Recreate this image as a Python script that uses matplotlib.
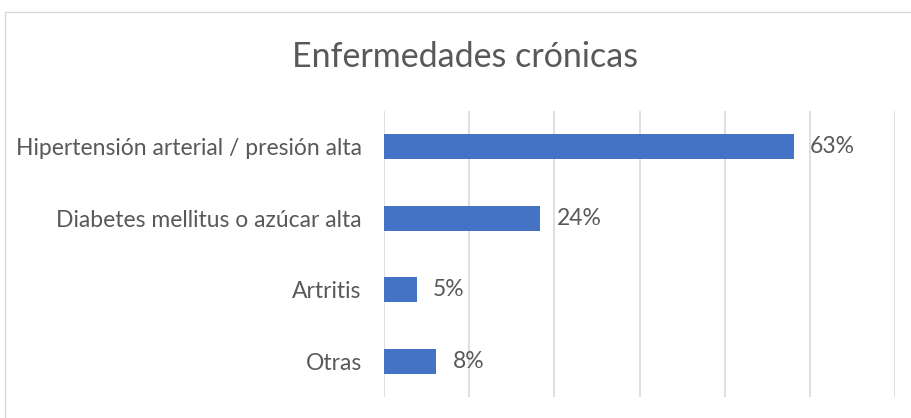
import matplotlib
matplotlib.use("Agg")
import matplotlib.pyplot as plt
from matplotlib.patches import Rectangle

categorias = ["Hipertensión arterial / presión alta", "Diabetes mellitus o azúcar alta",
              "Artritis", "Otras"]
porcentajes = [63, 24, 5, 8]
etiquetas = ["63%", "24%", "5%", "8%"]

plt.rcParams['font.family'] = ['Lato', 'DejaVu Sans']
gris = '#595959'

fig = plt.figure(figsize=(9.11, 4.18), dpi=100)
# marco del grafico
fig.patches.append(Rectangle((5/911, -0.1), 1.1, 0.971 + 0.1, transform=fig.transFigure,
                             fill=False, edgecolor='#d9d9d9', linewidth=1))
ax = fig.add_axes([384/911, 1 - 397/418, (895 - 384)/911, (397 - 111)/418])

paso = 13.1
y = list(range(len(categorias)))[::-1]
ax.barh(y, porcentajes, height=0.35, color='#4472c4', zorder=3)
for yi, v, t in zip(y, porcentajes, etiquetas):
    ax.annotate(t, (v, yi), xytext=(12, 0), textcoords='offset points',
                va='center', ha='left', fontsize=16.5, color=gris)

ax.set_xlim(0, 6*paso)
ax.set_ylim(-0.5, len(categorias) - 0.5)
ax.set_xticks([paso*i for i in range(7)])
ax.set_xticklabels([])
ax.grid(axis='x', color='#d9d9d9', linewidth=1.2, zorder=0)
ax.set_yticks(y)
ax.set_yticklabels(categorias, fontsize=16.5, color=gris)
ax.tick_params(axis='both', length=0, pad=16)
for s in ax.spines.values():
    s.set_visible(False)

fig.text(465/911, 1 - 57/418, "Enfermedades crónicas", ha='center', va='center',
         fontsize=24.5, color=gris)

fig.savefig("out.png", dpi=100)
